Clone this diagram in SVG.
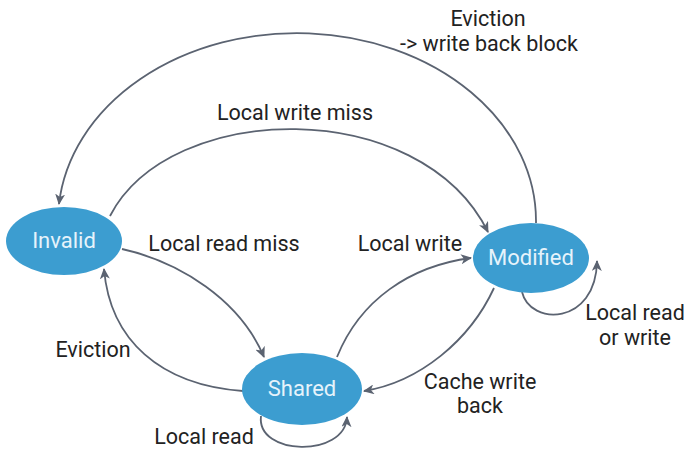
<svg xmlns="http://www.w3.org/2000/svg" width="686" height="452" viewBox="0 0 686 452">
  <defs>
    <style>
      .state { fill: #3c9dd0; }
      .state-label { font-family: Roboto, "Liberation Sans", sans-serif; font-size: 22px; fill: #e6f3fb; text-anchor: middle; dominant-baseline: central; }
      .edge { fill: none; stroke: #5b6371; stroke-width: 1.8; marker-end: url(#arrow); }
      .label { font-family: Roboto, "Liberation Sans", sans-serif; font-size: 21.5px; fill: #222; text-anchor: middle; }
    </style>
    <marker id="arrow" markerUnits="userSpaceOnUse" markerWidth="12" markerHeight="10" refX="10" refY="5" orient="auto">
      <path d="M0,0 L11,5 L0,10 L3,5 Z" fill="#5b6371"/>
    </marker>
  </defs>

  <rect width="686" height="452" fill="#ffffff"/>

  <!-- transitions -->
  <g id="connectors">
    <!-- Modified -> Invalid (eviction with write back) -->
    <path class="edge" d="M 536 223 A 239 188 0 0 0 59 204"/>
    <!-- Invalid -> Modified (local write miss) -->
    <path class="edge" d="M 110 216 C 170 100, 420 95, 488 232"/>
    <!-- Invalid -> Shared (local read miss) -->
    <path class="edge" d="M 122 249 C 180 262, 240 300, 264 357"/>
    <!-- Shared -> Invalid (eviction) -->
    <path class="edge" d="M 243 391 C 160 385, 110 340, 104 269"/>
    <!-- Shared -> Modified (local write) -->
    <path class="edge" d="M 337 357 C 360 300, 410 266, 471 258"/>
    <!-- Modified -> Shared (cache write back) -->
    <path class="edge" d="M 494 288 C 470 340, 420 382, 364 391"/>
    <!-- Modified self loop -->
    <path class="edge" d="M 522 292 C 530 326, 596 326, 597 261"/>
    <!-- Shared self loop -->
    <path class="edge" d="M 261 416 C 256 456, 345 458, 347 417"/>
  </g>

  <g id="invalid">
    <ellipse class="state" cx="64" cy="241" rx="58" ry="34"/>
    <text class="state-label" x="64" y="240">Invalid</text>
  </g>

  <g id="modified">
    <ellipse class="state" cx="531" cy="258" rx="58" ry="35"/>
    <text class="state-label" x="531" y="257">Modified</text>
  </g>

  <g id="shared">
    <ellipse class="state" cx="302" cy="389" rx="60" ry="36"/>
    <text class="state-label" x="302" y="388">Shared</text>
  </g>

  <!-- transition labels -->
  <g id="labels">
    <text class="label" x="488" y="26">Eviction</text>
    <text class="label" x="489" y="51">-&gt; write back block</text>
    <text class="label" x="295" y="120">Local write miss</text>
    <text class="label" x="224" y="251">Local read miss</text>
    <text class="label" x="410" y="251">Local write</text>
    <text class="label" x="93" y="357">Eviction</text>
    <text class="label" x="480" y="389">Cache write</text>
    <text class="label" x="480" y="413">back</text>
    <text class="label" x="204" y="444">Local read</text>
    <text class="label" x="635" y="320">Local read</text>
    <text class="label" x="635" y="345">or write</text>
  </g>
</svg>
